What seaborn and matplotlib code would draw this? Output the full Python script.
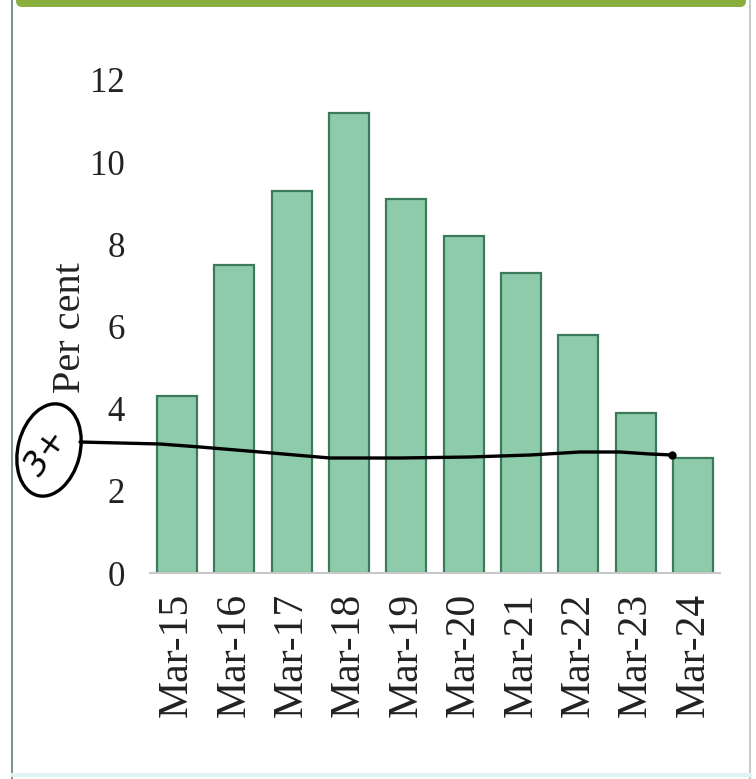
import matplotlib
matplotlib.use("Agg")
import matplotlib.pyplot as plt
import seaborn as sns
import pandas as pd
from matplotlib.patches import Ellipse, FancyBboxPatch
from matplotlib.lines import Line2D

# ---- data ----
categories = ["Mar-15", "Mar-16", "Mar-17", "Mar-18", "Mar-19",
              "Mar-20", "Mar-21", "Mar-22", "Mar-23", "Mar-24"]
values = [4.3, 7.5, 9.3, 11.2, 9.1, 8.2, 7.3, 5.8, 3.9, 2.8]
y_ticks = [0, 2, 4, 6, 8, 10, 12]
y_label = "Per cent"
note_text = "3+"

# hand-drawn annotation path (figure pixels, from top-left)
note_x = [80, 120, 160, 200, 260, 330, 400, 470, 530, 580, 620, 650, 672]
note_y = [442, 443, 444, 447, 452, 458, 458, 457, 455, 452, 452, 454, 455]

W, H = 756, 779
sns.set_theme(style="white")
plt.rcParams['font.family'] = ['Liberation Serif', 'DejaVu Serif']

fig = plt.figure(figsize=(W / 100, H / 100), dpi=100)
ax = fig.add_axes([150 / W, 1 - 573 / H, (720 - 150) / W, (573 - 80) / H])

df = pd.DataFrame({"cat": categories, "val": values})
sns.barplot(data=df, x="cat", y="val", ax=ax, color="#8dcbab", saturation=1,
            edgecolor="#3c7a5c", linewidth=1.6, width=0.7)

ax.set_xlim(-0.47, len(categories) - 1 + 0.47)
ax.set_ylim(0, 12)
ax.set_yticks(y_ticks)
ax.set_yticklabels([str(t) for t in y_ticks], fontsize=25, color="#222222")
ax.tick_params(axis="y", length=0, pad=18)
ax.tick_params(axis="x", length=0, pad=14)
for lab in ax.get_xticklabels():
    lab.set_rotation(90)
    lab.set_fontsize(30)
    lab.set_color("#222222")
ax.set_xlabel("")
ax.set_ylabel("")
for s in ["top", "right", "left"]:
    ax.spines[s].set_visible(False)
ax.spines["bottom"].set_color("#c8c8c8")
ax.spines["bottom"].set_linewidth(1.5)

fig.text(70 / W, 1 - 328 / H, y_label, rotation=90, fontsize=29,
         color="#222222", ha="center", va="center")

# frame decorations
fig.add_artist(Line2D([12 / W, 12 / W], [0, 1], transform=fig.transFigure,
                      color="#7f9488", lw=1.5))
fig.add_artist(Line2D([750 / W, 750 / W], [0, 1], transform=fig.transFigure,
                      color="#b5c4bb", lw=1.2))
fig.add_artist(Line2D([12 / W, 750 / W], [4 / H, 4 / H], transform=fig.transFigure,
                      color="#dff3f3", lw=3))
fig.add_artist(FancyBboxPatch((16 / W, 1 - 7 / H), (746 - 16) / W, 12 / H,
                              boxstyle="round,pad=0,rounding_size=0.008",
                              transform=fig.transFigure, facecolor="#8aae3e",
                              edgecolor="none"))

# hand-drawn annotation
fig.add_artist(Line2D([x / W for x in note_x], [1 - y / H for y in note_y],
                      transform=fig.transFigure, color="black", lw=2.4,
                      solid_capstyle="round"))
fig.add_artist(Line2D([note_x[-1] / W], [1 - note_y[-1] / H], marker="o",
                      markersize=5, color="black", transform=fig.transFigure))
fig.add_artist(Ellipse((49 / W, 1 - 450 / H), 62 / W, 94 / H, angle=-15,
                       transform=fig.transFigure, fill=False,
                       edgecolor="black", lw=2.4))
fig.text(46 / W, 1 - 452 / H, note_text, fontsize=24, style="italic",
         rotation=55, ha="center", va="center", color="black",
         family=["DejaVu Sans"])

fig.savefig("out.png", dpi=100)
